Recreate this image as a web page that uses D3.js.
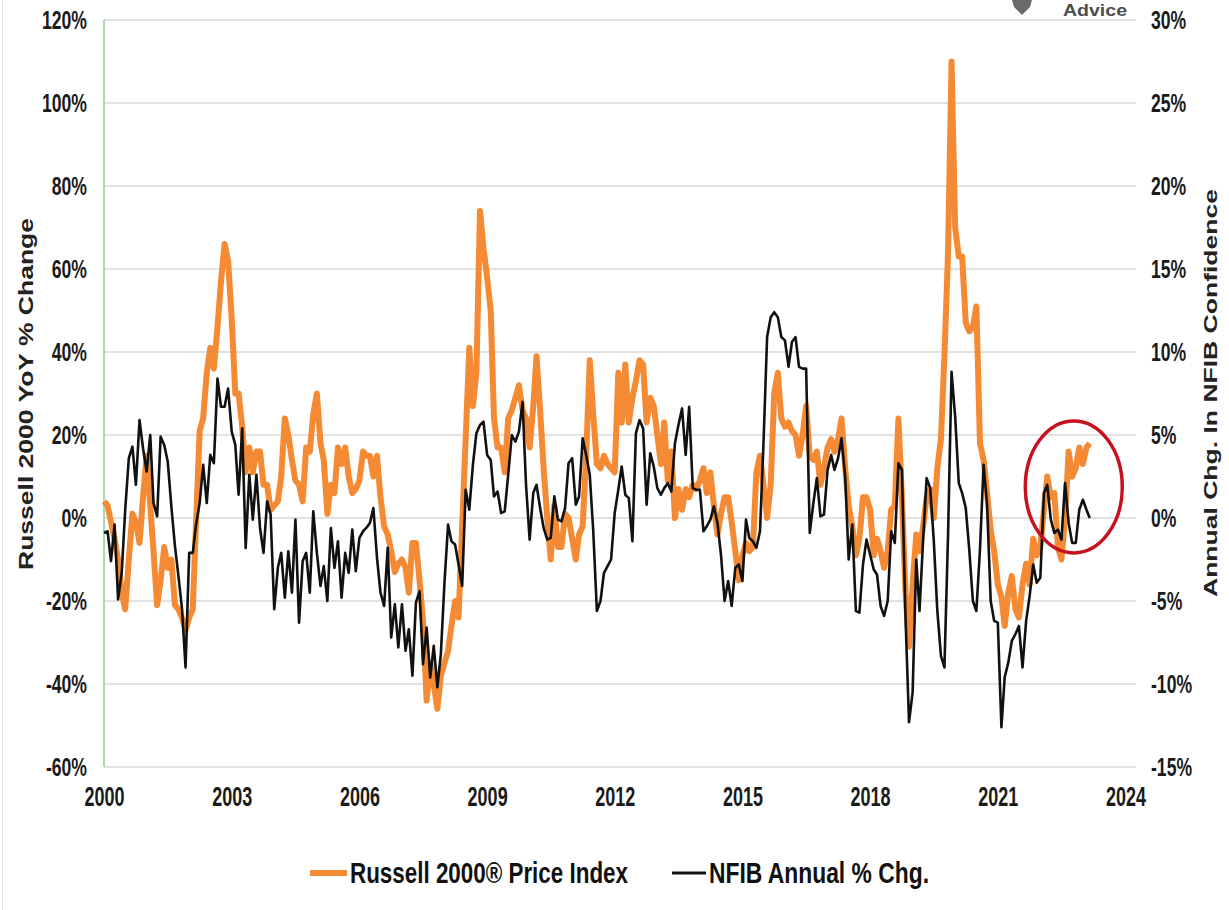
<!DOCTYPE html>
<html>
<head>
<meta charset="utf-8">
<title>Russell 2000 vs NFIB Confidence</title>
<script src="https://cdn.jsdelivr.net/npm/d3@7"></script>
<style>
    body { margin: 0; background: #fff; }
    svg { display: block; }
    .axis text {
        font-family: 'Liberation Sans', Arial, sans-serif;
        font-weight: bold;
        fill: #1a1a1a;
    }
</style>
</head>
<body>
<div id="chart-container"></div>
<script>
// Monthly series, starting January 2000
const startYear = 2000;

// Russell 2000 price index, YoY % change (left axis)
const russell = [
    4, 3, -1, -5, -10, -18, -22, -10, 1, -1,
    -6, 5, 15, 3, -8, -21, -15, -7, -12, -10,
    -21, -22, -24, -27, -24, -22, -1, 21, 24, 35,
    41, 36, 46, 57, 66, 62, 48, 30, 30, 22,
    11, 17, 11, 16, 16, 8, 8, 2, 3, 4,
    10, 24, 20, 14, 9, 8, 4, 17, 16, 25,
    30, 18, 14, 1, 8, 6, 17, 13, 17, 10,
    6, 7, 9, 16, 15, 15, 10, 15, 5, -2,
    -4, -8, -13, -11, -10, -12, -18, -6, -6, -15,
    -25, -44, -35, -40, -46, -38, -35, -32, -26, -20,
    -24, -2, 19, 41, 27, 35, 74, 65, 58, 50,
    24, 17, 17, 11, 24, 26, 29, 32, 26, 24,
    17, 27, 39, 26, 12, 0, -10, 3, -7, -7,
    1, 0, -5, -10, -4, -2, 15, 38, 25, 13,
    12, 15, 13, 12, 11, 35, 23, 37, 23, 29,
    33, 38, 37, 23, 29, 27, 20, 13, 23, 9,
    16, 0, 7, 2, 7, 5, 8, 7, 9, 12,
    6, 11, 3, -4, 1, 5, 5, -1, -8, -15,
    -9, -6, -8, -7, 11, 15, 8, 0, 8, 30,
    35, 24, 22, 23, 21, 20, 15, 20, 27, 15,
    14, 16, 8, 12, 17, 19, 16, 19, 24, 12,
    3, -2, -9, -5, 5, 5, 2, -9, -5, -8,
    -12, -8, 2, 3, 24, 5, -18, -31, -16, -4,
    -8, -2, 5, 7, 0, 12, 19, 39, 64, 110,
    70, 63, 63, 47, 45, 46, 51, 18, 14, 6,
    -3, -8, -16, -19, -26, -18, -14, -22, -24, -16,
    -11, -16, -5, -9, -7, 2, 10, 5, 6, -7,
    -10, 0, 16, 10, 12, 17, 13, 17, 18
];

// NFIB small business optimism, annual % change (right axis)
const nfib = [
    -0.9, -0.8, -2.6, -0.4, -4.9, -3.3, 0.5, 3.6, 4.3, 2.0,
    5.9, 4.2, 2.8, 5.0, 0.9, 0.1, 4.9, 4.4, 3.4, 0.7,
    -1.7, -3.5, -5.5, -9.0, -2.1, -2.1, -0.4, 0.9, 3.2, 0.9,
    3.8, 3.3, 8.4, 6.7, 6.7, 7.8, 5.2, 4.4, 1.4, 5.4,
    -1.8, 2.6, -0.1, 2.6, -0.6, -2.1, 1.0, 0.2, -5.5, -3.0,
    -2.1, -4.8, -2.0, -4.5, -0.1, -6.3, -2.6, -2.1, -4.5, 0.4,
    -2.1, -4.1, -2.9, -5.0, -0.6, -3.0, -1.4, -4.8, -2.1, -3.3,
    -0.7, -3.2, -1.2, -0.8, -0.6, -0.3, 0.6, -2.4, -4.5, -5.3,
    -1.8, -7.2, -5.2, -7.8, -5.2, -8.0, -6.7, -9.5, -5.1, -4.4,
    -8.8, -6.6, -9.6, -7.7, -10.2, -8.2, -3.9, -0.4, -1.4, -1.6,
    -2.8, -4.1, 1.7, 0.5, 3.2, 5.1, 5.6, 5.8, 3.8, 3.5,
    1.3, 1.6, 0.3, 0.4, 2.6, 5.0, 4.6, 5.2, 7.0, 2.0,
    -1.3, 1.5, 2.0, 0.6, -0.6, -1.3, -1.2, 1.3, -0.1, -0.2,
    0.6, 3.3, 3.6, 0.8, 1.3, 4.8, 3.8, 2.6, -0.8, -5.6,
    -5.0, -3.3, -2.9, -2.5, 0.3, 1.7, 3.1, 1.4, 1.2, -1.4,
    5.1, 5.9, 5.4, 0.8, 3.9, 3.1, 1.8, 1.4, 1.8, 2.1,
    1.6, 4.5, 5.6, 6.6, 3.8, 6.7, 1.8, 1.7, 1.7, -0.8,
    -0.5, -0.1, 0.7, -0.3, -2.2, -5.0, -3.8, -5.3, -3.0, -2.8,
    -3.8, -0.1, -1.2, -1.4, -1.8, -0.8, 4.5, 10.9, 12.1, 12.4,
    12.1, 10.9, 10.7, 9.1, 10.6, 10.9, 9.1, 9.0, 9.0, -0.9,
    0.9, 2.4, 0.1, 0.2, 2.9, 3.8, 2.9, 3.6, 4.8, 2.5,
    -2.5, -0.4, -5.6, -5.7, -2.8, -1.3, -2.2, -3.1, -3.4, -5.3,
    -5.9, -5.0, -0.8, -1.5, 3.3, 2.9, -6.0, -12.3, -10.5, -2.5,
    -5.6, -1.3, 2.4, 1.8, -1.3, -5.6, -8.3, -9.0, -1.0, 8.8,
    6.1, 2.1, 1.5, 0.6, -1.9, -5.0, -5.6, -1.9, 3.2, 0.8,
    -5.0, -6.2, -6.3, -12.6, -9.6, -8.7, -7.4, -7.0, -6.5, -9.0,
    -6.2, -4.7, -2.8, -3.9, -3.6, 1.5, 2.0, -0.1, -0.9, -0.7,
    -1.3, 2.1, -0.3, -1.5, -1.5, 0.5, 1.1, 0.5, 0.0
];

const yearTicks = [2000, 2003, 2006, 2009, 2012, 2015, 2018, 2021, 2024];
const leftTicks = [-60, -40, -20, 0, 20, 40, 60, 80, 100, 120];
const rightTicks = [-15, -10, -5, 0, 5, 10, 15, 20, 25, 30];
const seriesNames = ['Russell 2000® Price Index', 'NFIB Annual % Chg.'];

const months = russell.map((d, i) => new Date(startYear, i, 1));

// Set up chart dimensions
const width = 1229;
const height = 910;
const plot = { left: 104, right: 1136, top: 20, bottom: 767 };

const svg = d3.select('#chart-container').append('svg')
    .attr('width', width)
    .attr('height', height);

// faint frame line on the left edge
svg.append('line')
    .attr('x1', 2.5).attr('x2', 2.5)
    .attr('y1', 0).attr('y2', height)
    .attr('stroke', '#e4e4e4');

const x = d3.scaleTime()
    .domain([new Date(2000, 0, 1), new Date(2024, 3, 1)])
    .range([plot.left, plot.right]);

const yLeft = d3.scaleLinear().domain([-60, 120]).range([plot.bottom, plot.top]);
const yRight = d3.scaleLinear().domain([-15, 30]).range([plot.bottom, plot.top]);

// Gridlines
svg.append('g')
    .selectAll('line')
    .data(leftTicks)
    .join('line')
    .attr('x1', plot.left)
    .attr('x2', plot.right)
    .attr('y1', d => yLeft(d))
    .attr('y2', d => yLeft(d))
    .attr('stroke', '#d9d9d9')
    .attr('stroke-width', 1.5);

// green left axis line
svg.append('line')
    .attr('x1', plot.left).attr('x2', plot.left)
    .attr('y1', plot.top).attr('y2', plot.bottom)
    .attr('stroke', '#8ccf8c')
    .attr('stroke-width', 1.5);

// tick labels are tall and narrow in the original, so squeeze them
const tickSx = 0.8, tickSy = 1.14;

// Left axis
const leftAxis = svg.append('g')
    .attr('class', 'axis')
    .attr('transform', `translate(${plot.left},0)`)
    .call(d3.axisLeft(yLeft).tickValues(leftTicks).tickFormat(d => d + '%').tickSize(0).tickPadding(17));
leftAxis.select('.domain').remove();
leftAxis.selectAll('text')
    .style('font-size', '22px')
    .attr('x', -17 / tickSx)
    .attr('transform', `scale(${tickSx},${tickSy})`);

// Right axis
const rightAxis = svg.append('g')
    .attr('class', 'axis')
    .attr('transform', `translate(${plot.right},0)`)
    .call(d3.axisRight(yRight).tickValues(rightTicks).tickFormat(d => d + '%').tickSize(0).tickPadding(15));
rightAxis.select('.domain').remove();
rightAxis.selectAll('text')
    .style('font-size', '22px')
    .attr('x', 15 / tickSx)
    .attr('transform', `scale(${tickSx},${tickSy})`);

// Bottom axis
const yearSx = 0.75, yearSy = 1.16;
const bottomAxis = svg.append('g')
    .attr('class', 'axis')
    .attr('transform', `translate(0,${plot.bottom})`)
    .call(d3.axisBottom(x)
        .tickValues(yearTicks.map(y => new Date(y, 0, 1)))
        .tickFormat(d3.timeFormat('%Y'))
        .tickSize(0));
bottomAxis.select('.domain').remove();
bottomAxis.selectAll('text')
    .style('font-size', '24px')
    .attr('y', 39.5 / yearSy)
    .attr('dy', 0)
    .attr('transform', `scale(${yearSx},${yearSy})`);

// Axis titles
svg.append('text')
    .attr('transform', 'translate(33,394) rotate(-90)')
    .attr('text-anchor', 'middle')
    .attr('textLength', 352)
    .attr('lengthAdjust', 'spacingAndGlyphs')
    .style('font-family', "'Liberation Sans', Arial, sans-serif")
    .style('font-weight', 'bold')
    .style('font-size', '21px')
    .style('fill', '#222')
    .text('Russell 2000 YoY % Change');

svg.append('text')
    .attr('transform', 'translate(1217,393) rotate(-90)')
    .attr('text-anchor', 'middle')
    .attr('textLength', 408)
    .attr('lengthAdjust', 'spacingAndGlyphs')
    .style('font-family', "'Liberation Sans', Arial, sans-serif")
    .style('font-weight', 'bold')
    .style('font-size', '19px')
    .style('fill', '#222')
    .text('Annual Chg. In NFIB Confidence');

// Series lines
const russellLine = d3.line()
    .x((d, i) => x(months[i]))
    .y(d => yLeft(d));

const nfibLine = d3.line()
    .x((d, i) => x(months[i]))
    .y(d => yRight(d));

svg.append('path')
    .datum(russell)
    .attr('d', russellLine)
    .attr('fill', 'none')
    .attr('stroke', '#f48a33')
    .attr('stroke-width', 6)
    .attr('stroke-linejoin', 'round');

svg.append('path')
    .datum(nfib)
    .attr('d', nfibLine)
    .attr('fill', 'none')
    .attr('stroke', '#111')
    .attr('stroke-width', 2.6)
    .attr('stroke-linejoin', 'round');

// Red circle around the latest readings
svg.append('ellipse')
    .attr('cx', x(new Date(2022, 9, 15)))
    .attr('cy', yLeft(7.5))
    .attr('rx', 48.5)
    .attr('ry', 66)
    .attr('fill', 'none')
    .attr('stroke', '#c8111f')
    .attr('stroke-width', 3.5);

// Legend
const legend = svg.append('g').attr('class', 'legend');
const legendItems = [
    { name: seriesNames[0], color: '#f48a33', width: 6, x1: 310, x2: 347, textLen: 278 },
    { name: seriesNames[1], color: '#111', width: 3, x1: 672, x2: 706, textLen: 220 }
];
legendItems.forEach(item => {
    legend.append('line')
        .attr('x1', item.x1).attr('x2', item.x2)
        .attr('y1', 873).attr('y2', 873)
        .attr('stroke', item.color)
        .attr('stroke-width', item.width);
    legend.append('text')
        .attr('x', item.x2 + 3)
        .attr('y', 883)
        .attr('textLength', item.textLen)
        .attr('lengthAdjust', 'spacingAndGlyphs')
        .style('font-family', "'Liberation Sans', Arial, sans-serif")
        .style('font-weight', 'bold')
        .style('font-size', '29px')
        .style('fill', '#111')
        .text(item.name);
});

// Logo fragment at top
svg.append('path')
    .attr('d', 'M1012,0 L1032,0 L1030,7 L1022,15 L1014,7 Z')
    .attr('fill', '#6a6a6a');
svg.append('text')
    .attr('x', 1063)
    .attr('y', 16)
    .attr('textLength', 64)
    .attr('lengthAdjust', 'spacingAndGlyphs')
    .style('font-family', "'Liberation Sans', Arial, sans-serif")
    .style('font-weight', 'bold')
    .style('font-size', '16px')
    .style('fill', '#4d4d4d')
    .text('Advice');
</script>
</body>
</html>
